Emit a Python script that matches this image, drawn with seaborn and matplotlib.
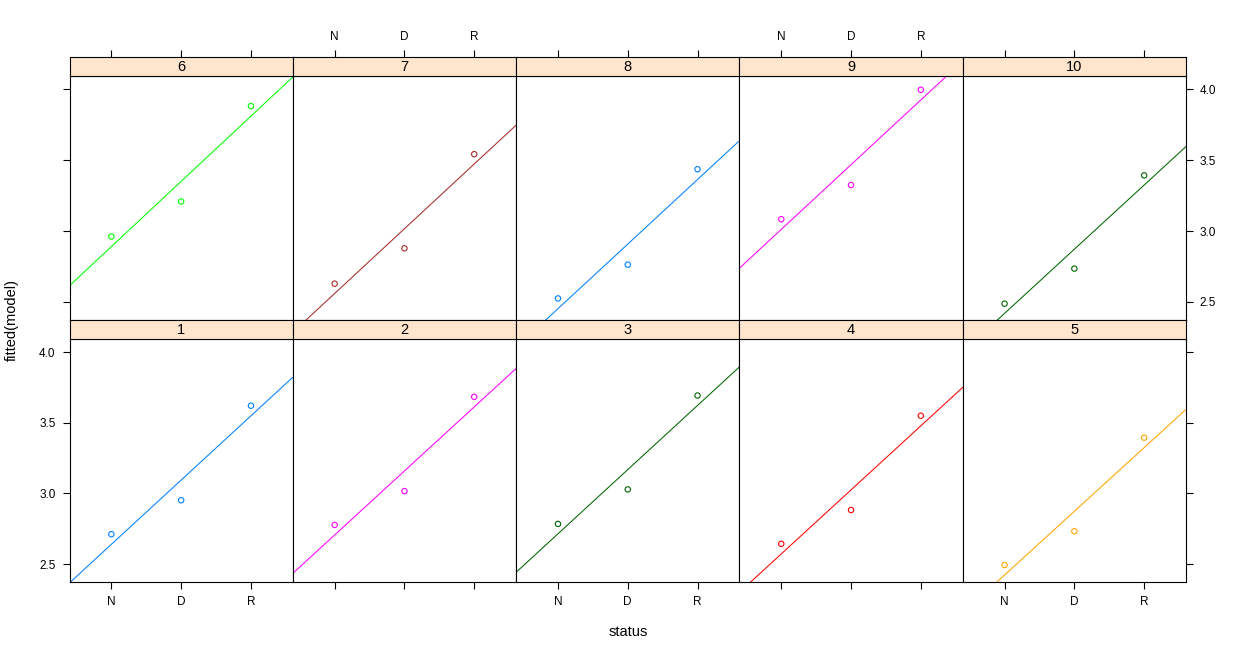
import numpy as np
import pandas as pd
import matplotlib
matplotlib.use("Agg")
import matplotlib.pyplot as plt
import seaborn as sns

# valores (fitted(model) por painel e status)
status_levels = ["N", "D", "R"]
panels = [1, 2, 3, 4, 5, 6, 7, 8, 9, 10]
fit_N = [2.711, 2.777, 2.784, 2.643, 2.493, 2.961, 2.629, 2.525, 3.083, 2.488]
fit_D = [2.951, 3.016, 3.028, 2.882, 2.732, 3.208, 2.878, 2.763, 3.324, 2.735]
fit_R = [3.620, 3.683, 3.692, 3.549, 3.394, 3.880, 3.541, 3.435, 3.995, 3.392]
y_ticks = [2.5, 3.0, 3.5, 4.0]

# cores padrão do lattice (superpose.symbol)
lattice_cols = ["#0080ff", "#ff00ff", "darkgreen", "#ff0000", "orange", "#00ff00", "brown"]
strip_bg = "#ffe5cc"

rows = []
for i, p in enumerate(panels):
    for j, (s, v) in enumerate(zip(status_levels, [fit_N[i], fit_D[i], fit_R[i]])):
        rows.append({"panel": p, "status": s, "code": j + 1, "fitted": v})
df = pd.DataFrame(rows)

plt.rcParams["font.family"] = ["Liberation Sans", "DejaVu Sans"]

# ordem do lattice: linha de cima 6-10, linha de baixo 1-5
order = [6, 7, 8, 9, 10, 1, 2, 3, 4, 5]
g = sns.FacetGrid(df, col="panel", col_wrap=5, col_order=order,
                  sharex=True, sharey=True, despine=False, height=2.4, aspect=0.9)
fig = g.figure
fig.set_size_inches(12.43, 6.53)
W, H = 1243, 653

x_left, pw = 69.5, 223.3
geo = {0: (57, 76, 320), 1: (320, 339, 582)}  # topo da strip, topo e base do painel

for idx, p in enumerate(order):
    r, c = divmod(idx, 5)
    ax = g.axes_dict[p]
    stop, ptop, pbot = geo[r]
    left = x_left + c * pw
    ax.set_position([left / W, 1 - pbot / H, pw / W, (pbot - ptop) / H])

    col = lattice_cols[(p - 1) % 7]
    sub = df[df["panel"] == p]
    ax.set_xlim(0.4, 3.6)
    sns.regplot(data=sub, x="code", y="fitted", ax=ax, ci=None, truncate=False,
                color=col,
                scatter_kws=dict(s=15, facecolors="none", edgecolors=col,
                                 linewidths=0.8, alpha=1),
                line_kws=dict(lw=0.75))
    ax.set_ylim(2.373, 4.092)
    ax.set_xlabel("")
    ax.set_ylabel("")
    ax.set_title("")
    for sp in ax.spines.values():
        sp.set_color("black")
        sp.set_linewidth(0.8)

    # strip
    sax = fig.add_axes([left / W, 1 - ptop / H, pw / W, (ptop - stop) / H], sharex=ax)
    sax.set_facecolor(strip_bg)
    sax.set_yticks([])
    sax.text(0.5, 0.45, str(p), transform=sax.transAxes, ha="center", va="center",
             fontsize=10.5)
    for sp in sax.spines.values():
        sp.set_color("black")
        sp.set_linewidth(0.8)
    ax._strip = sax

first = g.axes_dict[order[0]]
first.set_xticks([1, 2, 3], status_levels)
first.set_yticks(y_ticks, [f"{t:.1f}" for t in y_ticks])

tick_kw = dict(direction="out", length=5, width=0.8, labelsize=8.5, pad=5,
               colors="black")
for idx, p in enumerate(order):
    r, c = divmod(idx, 5)
    ax = g.axes_dict[p]
    ax.tick_params(axis="x", top=False, labeltop=False,
                   bottom=(r == 1), labelbottom=(r == 1 and c % 2 == 0), **tick_kw)
    ax.tick_params(axis="y", left=(c == 0), labelleft=(c == 0 and r == 1),
                   right=(c == 4), labelright=(c == 4 and r == 0), **tick_kw)
    sax = ax._strip
    sax.tick_params(axis="x", bottom=False, labelbottom=False,
                    top=(r == 0), labeltop=(r == 0 and c % 2 == 1), **tick_kw)
    sax.tick_params(axis="y", left=False, labelleft=False)

fig.text(12 / W, 1 - 320 / H, "fitted(model)", rotation=90, ha="center",
         va="center", fontsize=10.5)
fig.text(628 / W, 1 - 632 / H, "status", ha="center", va="center", fontsize=10.5)

fig.savefig("out.png", dpi=100)
